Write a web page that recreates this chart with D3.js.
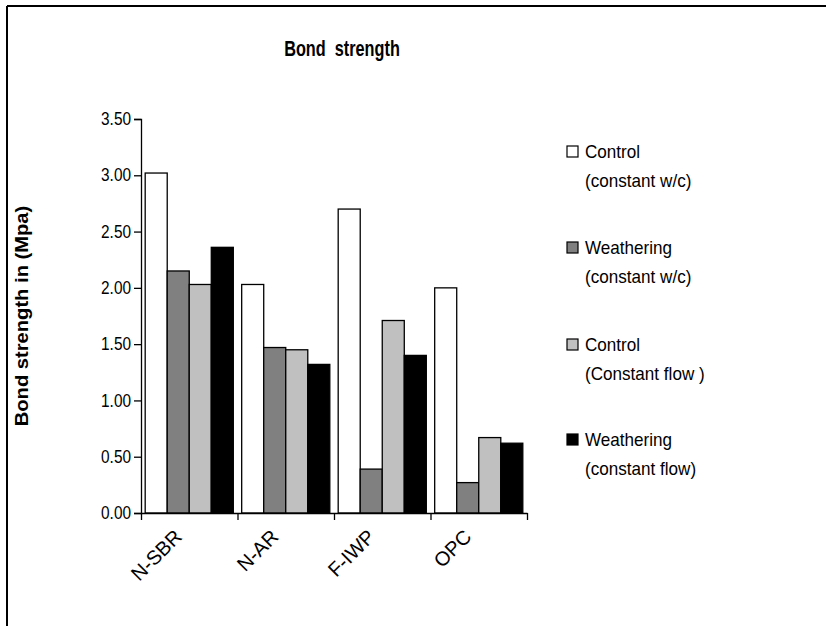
<!DOCTYPE html>
<html>
<head>
<meta charset="utf-8">
<script src="https://cdn.jsdelivr.net/npm/d3@7"></script>
<style>
  html, body { margin: 0; padding: 0; background: #fff; }
  svg { display: block; font-family: "Liberation Sans", Arial, sans-serif; }
</style>
</head>
<body>
<svg id="chart" width="826" height="626"></svg>
<script>
const categories = ["N-SBR", "N-AR", "F-IWP", "OPC"];
const seriesNames = [
  ["Control", "(constant w/c)"],
  ["Weathering", "(constant w/c)"],
  ["Control", "(Constant flow )"],
  ["Weathering", "(constant flow)"]
];
const seriesColors = ["#ffffff", "#808080", "#c0c0c0", "#000000"];
const controlWc = [3.02, 2.03, 2.70, 2.00];
const weatheringWc = [2.15, 1.47, 0.39, 0.27];
const controlFlow = [2.03, 1.45, 1.71, 0.67];
const weatheringFlow = [2.36, 1.32, 1.40, 0.62];
const yTicks = [0, 0.5, 1.0, 1.5, 2.0, 2.5, 3.0, 3.5];
const seriesValues = [controlWc, weatheringWc, controlFlow, weatheringFlow];

const svg = d3.select("#chart");

// outer frame (top and left visible)
svg.append("line").attr("x1", 7).attr("x2", 826).attr("y1", 6).attr("y2", 6)
  .attr("stroke", "#000").attr("stroke-width", 2);
svg.append("line").attr("x1", 7).attr("x2", 7).attr("y1", 6).attr("y2", 626)
  .attr("stroke", "#000").attr("stroke-width", 2);

const plot = { left: 141, right: 527, top: 119, bottom: 513 };

const x0 = d3.scaleBand().domain(categories).range([plot.left, plot.right]).paddingInner(0).paddingOuter(0);
const x1 = d3.scaleBand().domain(d3.range(4)).range([0, x0.bandwidth()]).paddingOuter(0.19).paddingInner(0);
const y = d3.scaleLinear().domain([0, 3.5]).range([plot.bottom, plot.top]);

// Title
svg.append("text").attr("transform", "translate(342,56) scale(0.74,1)").attr("text-anchor", "middle")
  .attr("font-weight", "bold").attr("font-size", 22).attr("xml:space", "preserve")
  .text("Bond  strength");

// Bars
const groups = svg.append("g").selectAll("g").data(categories).join("g")
  .attr("transform", d => `translate(${x0(d)},0)`);
groups.selectAll("rect").data((c, ci) => seriesValues.map((s, si) => ({ si, v: s[ci] })))
  .join("rect")
  .attr("x", d => x1(d.si))
  .attr("y", d => y(d.v))
  .attr("width", x1.bandwidth())
  .attr("height", d => y(0) - y(d.v))
  .attr("fill", d => seriesColors[d.si])
  .attr("stroke", "#000").attr("stroke-width", 1.3);

// Y axis
const yAxis = svg.append("g").attr("transform", `translate(${plot.left},0)`)
  .call(d3.axisLeft(y).tickValues(yTicks).tickFormat(d3.format(".2f")).tickSize(7).tickPadding(3));
yAxis.select(".domain").attr("stroke-width", 1.3);
yAxis.selectAll(".tick line").attr("stroke-width", 1.3);
yAxis.selectAll(".tick text")
  .attr("font-size", 17.5).attr("font-family", "Liberation Sans, Arial, sans-serif").attr("fill", "#000")
  .each(function () {
    const t = d3.select(this);
    const xx = +t.attr("x");
    t.attr("x", null).attr("transform", `translate(${xx},0) scale(0.88,1)`);
  });

// X axis
const xTickScale = d3.scaleLinear().domain([0, 4]).range([plot.left, plot.right]);
const xAxis = svg.append("g").attr("transform", `translate(0,${plot.bottom})`)
  .call(d3.axisBottom(xTickScale).tickValues(d3.range(5)).tickFormat("").tickSize(7).tickSizeOuter(0));
xAxis.select(".domain").attr("stroke-width", 1.3);
xAxis.selectAll(".tick line").attr("stroke-width", 1.3);

svg.append("g").selectAll("text").data(categories).join("text")
  .attr("transform", d => `translate(${x0(d) + x0.bandwidth() / 2 - 6},${plot.bottom + 25}) rotate(-45)`)
  .attr("text-anchor", "end")
  .attr("font-size", 20)
  .text(d => d);

// Y axis title
svg.append("text")
  .attr("transform", `translate(28,${(plot.top + plot.bottom) / 2}) rotate(-90) scale(1.12,1)`)
  .attr("text-anchor", "middle").attr("font-weight", "bold").attr("font-size", 18)
  .text("Bond strength in (Mpa)");

// Legend
const legendY = [158, 254, 351, 446];
const leg = svg.append("g").selectAll("g").data(seriesNames).join("g")
  .attr("transform", (d, i) => `translate(567,${legendY[i]})`);
leg.append("rect").attr("x", 0).attr("y", -12).attr("width", 11).attr("height", 11)
  .attr("fill", (d, i) => seriesColors[i]).attr("stroke", "#000").attr("stroke-width", 1.2);
leg.append("text").attr("transform", "translate(18,0) scale(0.95,1)").attr("font-size", 18).attr("xml:space", "preserve").text(d => d[0]);
leg.append("text").attr("transform", "translate(18,29) scale(0.95,1)").attr("font-size", 18).attr("xml:space", "preserve").text(d => d[1]);
</script>
</body>
</html>
